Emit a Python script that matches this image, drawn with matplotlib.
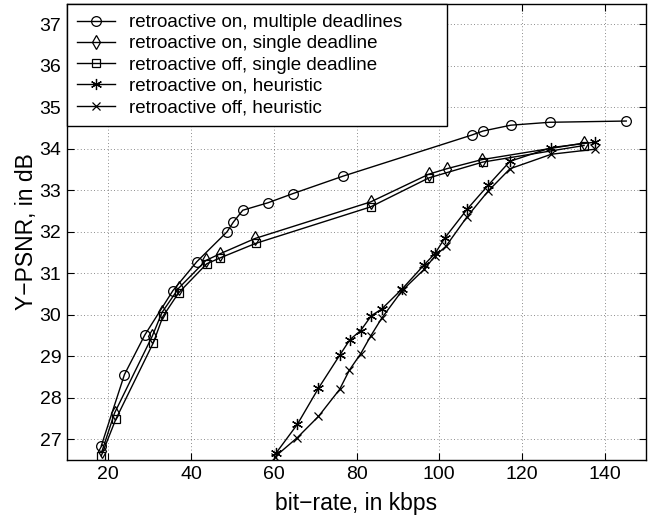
import matplotlib

matplotlib.use("Agg")
import matplotlib.pyplot as plt

plt.rcParams["font.family"] = ["Liberation Sans", "DejaVu Sans"]

# retroactive on, multiple deadlines
multi_x = [18.3, 23.9, 28.8, 35.6, 41.4, 48.7, 50.2, 52.5, 58.6, 64.6, 76.7,
           107.8, 110.6, 117.3, 126.7, 145.2]
multi_y = [26.84, 28.56, 29.51, 30.58, 31.28, 32.0, 32.23, 32.52, 32.70, 32.92, 33.34,
           34.33, 34.43, 34.57, 34.64, 34.67]

# retroactive on, single deadline
on_single_x = [18.5, 21.5, 30.6, 33.0, 37.0, 43.6, 47.0, 55.5, 83.4, 97.5, 101.8, 110.3, 135.0]
on_single_y = [26.72, 27.63, 29.48, 30.06, 30.64, 31.31, 31.47, 31.84, 32.72, 33.39, 33.52, 33.74, 34.14]

# retroactive off, single deadline
off_single_x = [18.3, 21.8, 30.9, 33.2, 37.0, 43.8, 47.0, 55.6, 83.4, 97.5, 110.5, 135.0]
off_single_y = [26.6, 27.48, 29.33, 29.96, 30.53, 31.23, 31.37, 31.72, 32.6, 33.3, 33.68, 34.08]

# retroactive on, heuristic
on_heur_x = [60.5, 65.7, 70.8, 75.9, 78.4, 81.0, 83.6, 86.1, 91.0, 96.4, 99.0, 101.4,
             106.7, 111.8, 117.1, 127.1, 137.6]
on_heur_y = [26.66, 27.36, 28.23, 29.02, 29.4, 29.62, 29.98, 30.14, 30.62, 31.21, 31.48, 31.86,
             32.54, 33.12, 33.70, 34.03, 34.16]

# retroactive off, heuristic
off_heur_x = [60.2, 65.7, 70.8, 75.9, 78.3, 81.0, 83.5, 86.1, 91.0, 96.4, 99.0, 101.6,
              106.7, 111.8, 117.1, 127.1, 137.6]
off_heur_y = [26.57, 27.04, 27.55, 28.2, 28.67, 29.06, 29.5, 29.92, 30.58, 31.1, 31.42, 31.65,
              32.36, 32.98, 33.52, 33.87, 33.99]

labels = [
    "retroactive on, multiple deadlines",
    "retroactive on, single deadline",
    "retroactive off, single deadline",
    "retroactive on, heuristic",
    "retroactive off, heuristic",
]

x_ticks = [20, 40, 60, 80, 100, 120, 140]
y_ticks = [27, 28, 29, 30, 31, 32, 33, 34, 35, 36, 37]

fig = plt.figure(figsize=(6.5, 5.18), dpi=100)
ax = fig.add_axes([0.103, 0.112, 0.891, 0.881])

# MATLAB-style markers; (6, 2, 0) is a six-armed asterisk
series = [
    (multi_x, multi_y, "o", 7),
    (on_single_x, on_single_y, "d", 7),
    (off_single_x, off_single_y, "s", 5.5),
    (on_heur_x, on_heur_y, (6, 2, 0), 8),
    (off_heur_x, off_heur_y, "x", 5.5),
]
for (xs, ys, m, ms), lab in zip(series, labels):
    ax.plot(xs, ys, color="black", linewidth=1.0, marker=m, markersize=ms,
            markerfacecolor="none", markeredgecolor="black", markeredgewidth=0.9,
            label=lab)

ax.set_xlim(10, 150)
ax.set_ylim(26.5, 37.5)
ax.set_xticks(x_ticks)
ax.set_yticks(y_ticks)
ax.tick_params(direction="in", top=True, right=True, labelsize=14, length=5)
ax.tick_params(axis="y", pad=4)
ax.tick_params(axis="x", pad=4)
ax.grid(True, linestyle=(0, (1, 3)), color="black", linewidth=0.6, alpha=0.6)
for sp in ax.spines.values():
    sp.set_linewidth(1.0)

ax.set_xlabel("bit\u2212rate, in kbps", fontsize=16.5, labelpad=7)
ax.set_ylabel("Y\u2212PSNR, in dB", fontsize=16.5, labelpad=1)

# legend box stretched to the width it has in the original
leg = ax.legend(loc="upper left", bbox_to_anchor=(0.0, 0.0, 0.656, 1.0), mode="expand",
                fontsize=13.5, numpoints=1, handlelength=2.0,
                handletextpad=0.75, fancybox=False, framealpha=1, edgecolor="black",
                borderaxespad=0, labelspacing=0.22, borderpad=0.55)
leg.get_frame().set_linewidth(1.0)

fig.savefig("out.png", dpi=100)
